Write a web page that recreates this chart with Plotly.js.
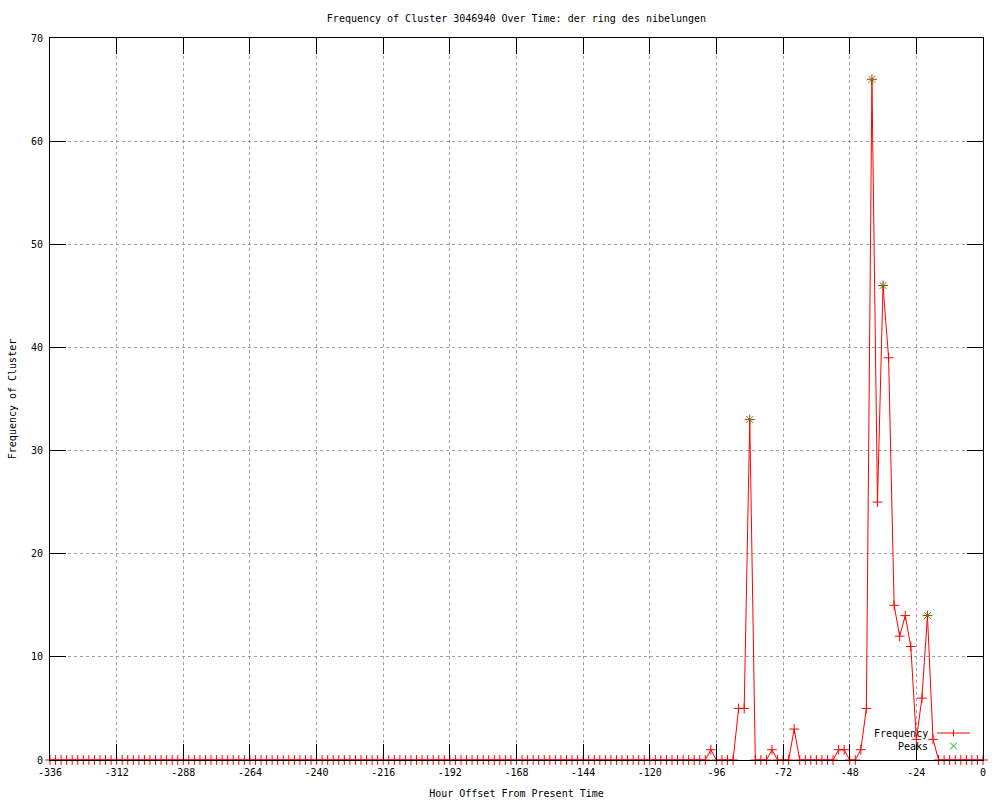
<!DOCTYPE html>
<html>
<head>
<meta charset="utf-8">
<script src="https://cdn.plot.ly/plotly-3.0.1.min.js"></script>
<style>html,body{margin:0;padding:0;background:#fff;}#chart{width:1000px;height:800px;}</style>
</head>
<body>
<div id="chart"></div>
<script>
// Hour offsets (every 2 hours)
const hours = [
  -336,-334,-332,-330,-328,-326,-324,-322,-320,-318,-316,-314,-312,-310,-308,-306,-304,-302,-300,-298,
  -296,-294,-292,-290,-288,-286,-284,-282,-280,-278,-276,-274,-272,-270,-268,-266,-264,-262,-260,-258,
  -256,-254,-252,-250,-248,-246,-244,-242,-240,-238,-236,-234,-232,-230,-228,-226,-224,-222,-220,-218,
  -216,-214,-212,-210,-208,-206,-204,-202,-200,-198,-196,-194,-192,-190,-188,-186,-184,-182,-180,-178,
  -176,-174,-172,-170,-168,-166,-164,-162,-160,-158,-156,-154,-152,-150,-148,-146,-144,-142,-140,-138,
  -136,-134,-132,-130,-128,-126,-124,-122,-120,-118,-116,-114,-112,-110,-108,-106,-104,-102,-100,
  -98,-96,-94,-92,-90,-88,-86,-84,-82,-80,-78,-76,-74,-72,-70,-68,-66,-64,-62,-60,-58,-56,-54,-52,-50,
  -48,-46,-44,-42,-40,-38,-36,-34,-32,-30,-28,-26,-24,-22,-20,-18,-16,-14,-12,-10,-8,-6,-4,-2,0
];
const frequency = [
  0,0,0,0,0,0,0,0,0,0,0,0,0,0,0,0,0,0,0,0,
  0,0,0,0,0,0,0,0,0,0,0,0,0,0,0,0,0,0,0,0,
  0,0,0,0,0,0,0,0,0,0,0,0,0,0,0,0,0,0,0,0,
  0,0,0,0,0,0,0,0,0,0,0,0,0,0,0,0,0,0,0,0,
  0,0,0,0,0,0,0,0,0,0,0,0,0,0,0,0,0,0,0,0,
  0,0,0,0,0,0,0,0,0,0,0,0,0,0,0,0,0,0,0,
  1,0,0,0,0,5,5,33,0,0,0,1,0,0,0,3,0,0,0,0,0,0,0,1,1,
  0,0,1,5,66,25,46,39,15,12,14,11,2,6,14,2,0,0,0,0,0,0,0,0,0
];
// Detected peaks
const peakHours = [-84, -40, -36, -20];
const peakValues = [33, 66, 46, 14];

const xTicks = [-336,-312,-288,-264,-240,-216,-192,-168,-144,-120,-96,-72,-48,-24,0];
const yTicks = [0,10,20,30,40,50,60,70];

const FONT = 'DejaVu Sans Mono, monospace';

const traces = [
  {
    x: hours, y: frequency, type: 'scatter', mode: 'lines+markers', name: 'Frequency',
    line: {color: '#ff0000', width: 1},
    marker: {symbol: 'cross-thin-open', size: 7, line: {color: '#ff0000', width: 1}, color: '#ff0000'},
    cliponaxis: false
  },
  {
    x: peakHours, y: peakValues, type: 'scatter', mode: 'markers', name: 'Peaks',
    marker: {symbol: 'x-thin-open', size: 7, line: {color: '#00c000', width: 1}, color: '#00c000'},
    cliponaxis: false
  }
];

// custom gnuplot-style legend (text left, sample right)
const L = 50, R = 983, T = 38, B = 760;
function px(x){ return (x - L) / (R - L); }
function py(y){ return (B - y) / (B - T); }
const legY1 = 733, legY2 = 746, legC = 953.5;

const layout = {
  width: 1000, height: 800,
  paper_bgcolor: '#ffffff', plot_bgcolor: '#ffffff',
  margin: {l: L, r: 1000 - R, t: T, b: 800 - B},
  showlegend: false,
  font: {family: FONT, size: 10, color: '#000'},
  title: {text: 'Frequency of Cluster 3046940 Over Time: der ring des nibelungen',
          font: {family: FONT, size: 10, color: '#000'},
          x: (L + R) / 2 / 1000, xanchor: 'center', xref: 'container',
          y: 1 - 18 / 800, yanchor: 'middle', yref: 'container'},
  xaxis: {
    range: [-336, 0], tickmode: 'array', tickvals: xTicks, ticktext: xTicks.map(String),
    ticks: 'inside', ticklen: 16, tickwidth: 1, tickcolor: '#000',
    showline: true, linecolor: '#000', linewidth: 1, mirror: 'allticks',
    showgrid: true, gridcolor: '#a0a0a0', griddash: 'dot', gridwidth: 1,
    zeroline: false, layer: 'above traces',
    tickfont: {family: FONT, size: 10, color: '#000'}, ticklabelstandoff: 3,
    title: {text: 'Hour Offset From Present Time', font: {family: FONT, size: 10, color: '#000'}, standoff: 12},
    automargin: false
  },
  yaxis: {
    range: [0, 70], tickmode: 'array', tickvals: yTicks, ticktext: yTicks.map(String),
    ticks: 'inside', ticklen: 16, tickwidth: 1, tickcolor: '#000',
    showline: true, linecolor: '#000', linewidth: 1, mirror: 'allticks',
    showgrid: true, gridcolor: '#a0a0a0', griddash: 'dot', gridwidth: 1,
    zeroline: false, layer: 'above traces',
    tickfont: {family: FONT, size: 10, color: '#000'}, ticklabelstandoff: 4,
    title: {text: 'Frequency of Cluster', font: {family: FONT, size: 10, color: '#000'}, standoff: 12},
    automargin: false
  },
  annotations: [
    {xref: 'paper', yref: 'paper', x: px(930), y: py(legY1), text: 'Frequency', showarrow: false,
     xanchor: 'right', yanchor: 'middle', font: {family: FONT, size: 10, color: '#000'}},
    {xref: 'paper', yref: 'paper', x: px(930), y: py(legY2), text: 'Peaks', showarrow: false,
     xanchor: 'right', yanchor: 'middle', font: {family: FONT, size: 10, color: '#000'}}
  ],
  shapes: [
    {type: 'line', xref: 'paper', yref: 'paper', x0: px(937), x1: px(970), y0: py(legY1), y1: py(legY1), line: {color: '#ff0000', width: 1}},
    {type: 'line', xref: 'paper', yref: 'paper', x0: px(legC), x1: px(legC), y0: py(legY1 - 3.5), y1: py(legY1 + 3.5), line: {color: '#ff0000', width: 1}},
    {type: 'line', xref: 'paper', yref: 'paper', x0: px(legC - 3.5), x1: px(legC + 3.5), y0: py(legY2 - 3.5), y1: py(legY2 + 3.5), line: {color: '#00c000', width: 1}},
    {type: 'line', xref: 'paper', yref: 'paper', x0: px(legC - 3.5), x1: px(legC + 3.5), y0: py(legY2 + 3.5), y1: py(legY2 - 3.5), line: {color: '#00c000', width: 1}}
  ]
};

Plotly.newPlot('chart', traces, layout, {displayModeBar: false, staticPlot: true});
</script>
</body>
</html>
